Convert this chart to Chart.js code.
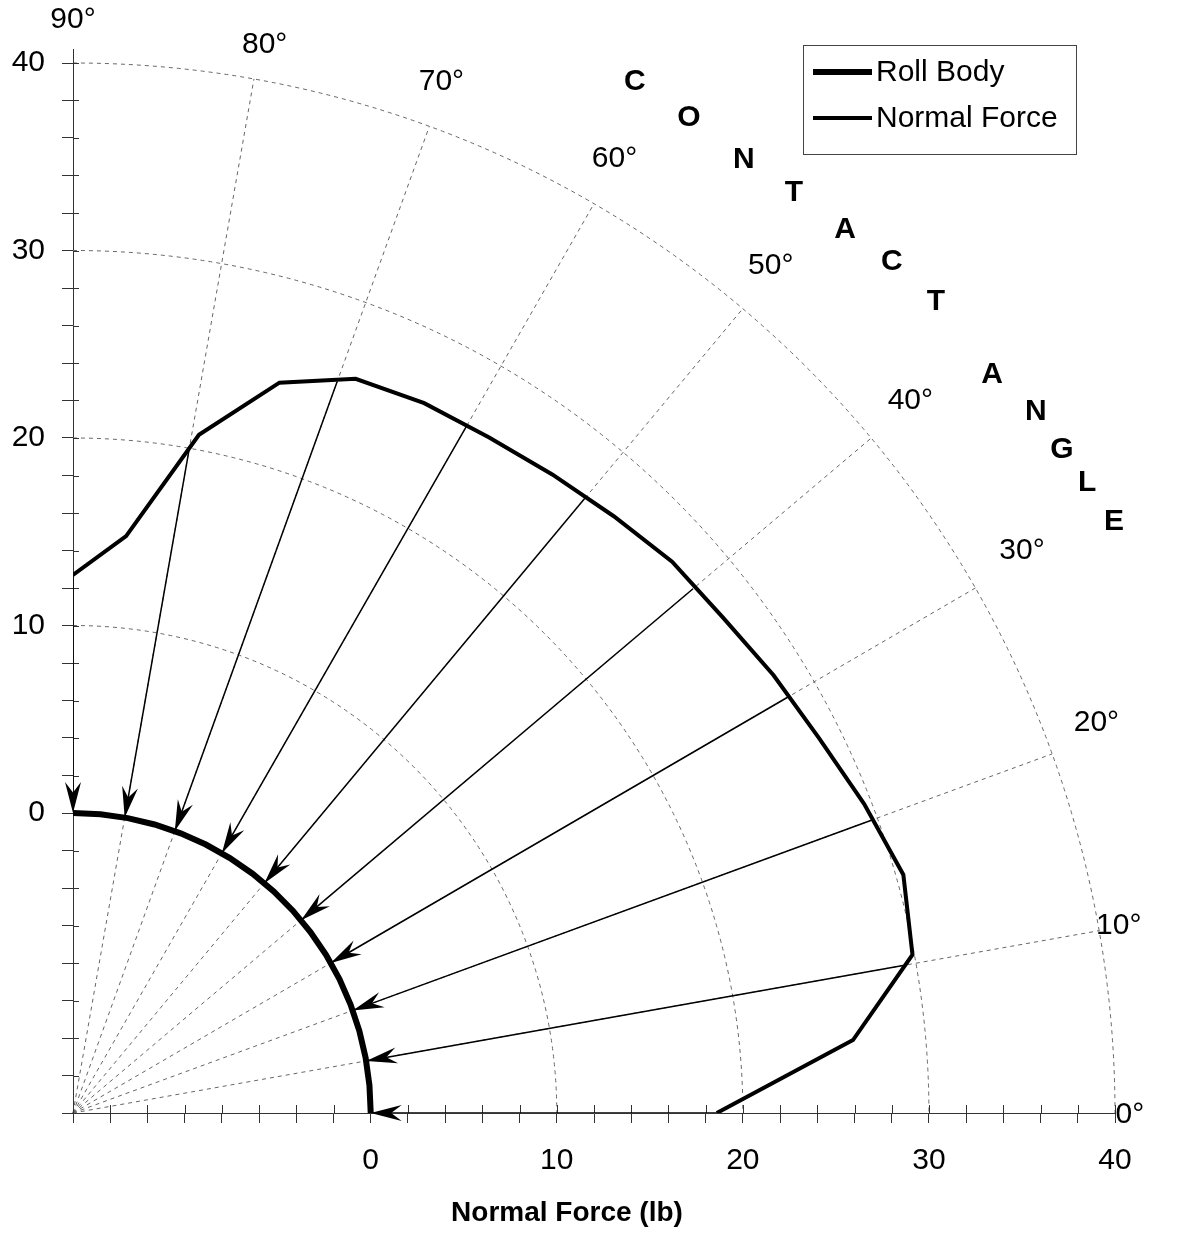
<!DOCTYPE html>
<html><head><meta charset="utf-8">
<script src="https://cdn.jsdelivr.net/npm/chart.js@4.4.1/dist/chart.umd.min.js"></script>
<style>html,body{margin:0;padding:0;background:#fff;} #wrap{width:1189px;height:1238px;position:relative;}</style>
</head><body><div id="wrap"><canvas id="c" width="1189" height="1238"></canvas></div>
<script>
// ---------------- data ----------------
const rollRadius = 16;                       // roll radius in axis units (lb scale)
const contactAngles = [0, 5.3, 10.6, 15.9, 21.2, 26.5, 31.8, 37.1, 42.4, 47.6, 52.9, 58.2, 63.5, 68.8, 74.1, 79.4, 84.7, 90];
const normalForce   = [18.6, 26.1, 29.9, 30.4, 29.6, 28.8, 28.3, 27.8, 27.6, 27.1, 26.7, 26.4, 26.3, 26.0, 24.5, 20.8, 14.9, 12.7];
const arrowAngles   = [0, 10, 20, 30, 40, 50, 60, 70, 80, 90];
const arrowForce    = [18.6, 29.3, 29.7, 28.4, 27.5, 26.9, 26.3, 25.5, 20.0, 12.7];
const gridAngles    = [0, 10, 20, 30, 40, 50, 60, 70, 80, 90];
const gridForces    = [10, 20, 30, 40];
const axisTickLabels = [0, 10, 20, 30, 40];
const angleLabels   = ['0°','10°','20°','30°','40°','50°','60°','70°','80°','90°'];
const arcLetters    = ['C','O','N','T','A','C','T','A','N','G','L','E'];
const seriesNames   = ['Roll Body', 'Normal Force'];
const xTitle        = 'Normal Force (lb)';

// ---------------- layout (text anchors in axis units) ----------------
const angleLabelPos = [[40.8,-16.1],[40.2,-6.0],[39.0,4.8],[35.0,14.0],[29.0,22.0],[21.5,29.2],[13.1,34.9],[3.8,39.0],[-5.7,41.0],[-16.0,42.3]];
const letterPos = [[14.19,38.99],[17.1,37.07],[20.05,34.83],[22.74,33.07],[25.5,31.09],[28.01,29.39],[30.38,27.25],[33.39,23.36],[35.75,21.39],[37.15,19.36],[38.5,17.6],[39.95,15.52]];
const FONT = '"Liberation Sans", Arial, sans-serif';

function toXY(angleDeg, force) {
  const r = rollRadius + force, t = angleDeg * Math.PI / 180;
  return { x: r * Math.cos(t) - rollRadius, y: r * Math.sin(t) - rollRadius };
}

const rollData = contactAngles.map(a => toXY(a, 0));
const forceData = contactAngles.map((a, i) => toXY(a, normalForce[i]));
const arrowSets = arrowAngles.map((a, i) => ({
  label: 'arrow' + a,
  data: [toXY(a, arrowForce[i]), toXY(a, 0)],
  borderColor: '#000', borderWidth: 1.5, pointRadius: 0, showLine: true, isArrow: true
}));

const polarGrid = {
  id: 'polarGrid',
  beforeDatasetsDraw(chart) {
    const { ctx, scales: { x: xs, y: ys } } = chart;
    const ox = xs.getPixelForValue(-rollRadius), oy = ys.getPixelForValue(-rollRadius);
    const rad = f => [xs.getPixelForValue(f) - ox, oy - ys.getPixelForValue(f)];
    ctx.save();
    ctx.strokeStyle = '#666'; ctx.lineWidth = 1; ctx.setLineDash([4, 4]);
    gridForces.forEach(f => {
      const [rx, ry] = rad(f);
      ctx.beginPath(); ctx.ellipse(ox, oy, rx, ry, 0, -Math.PI / 2, 0); ctx.stroke();
    });
    const [RX, RY] = rad(gridForces[gridForces.length - 1]);
    gridAngles.forEach(a => {
      if (a === 0 || a === 90) return;
      const t = a * Math.PI / 180;
      ctx.beginPath(); ctx.moveTo(ox, oy); ctx.lineTo(ox + RX * Math.cos(t), oy - RY * Math.sin(t)); ctx.stroke();
    });
    ctx.setLineDash([]);
    // inner halves of the crossing tick marks
    ctx.strokeStyle = '#333';
    const ca = chart.chartArea;
    for (let v = -16; v <= 40; v += 2) {
      const py = Math.round(ys.getPixelForValue(v)) + 0.5;
      ctx.beginPath(); ctx.moveTo(ca.left, py); ctx.lineTo(ca.left + 6, py); ctx.stroke();
      const px = Math.round(xs.getPixelForValue(v)) + 0.5;
      ctx.beginPath(); ctx.moveTo(px, ca.bottom); ctx.lineTo(px, ca.bottom - 8); ctx.stroke();
    }
    ctx.beginPath(); ctx.moveTo(ca.left + 0.5, ca.top); ctx.lineTo(ca.left + 0.5, ca.top - 14); ctx.stroke();
    ctx.restore();
  },
  afterDatasetsDraw(chart) {
    const { ctx } = chart;
    ctx.save(); ctx.fillStyle = '#000';
    chart.data.datasets.forEach((ds, i) => {
      if (!ds.isArrow) return;
      const pts = chart.getDatasetMeta(i).data;
      const p0 = pts[0], p1 = pts[1];
      const dx = p1.x - p0.x, dy = p1.y - p0.y, L = Math.hypot(dx, dy);
      const ux = dx / L, uy = dy / L, nx = -uy, ny = ux;
      const len = 31, w = 8;
      ctx.beginPath();
      ctx.moveTo(p1.x, p1.y);
      ctx.lineTo(p1.x - ux * len + nx * w, p1.y - uy * len + ny * w);
      ctx.lineTo(p1.x - ux * len * 0.66, p1.y - uy * len * 0.66);
      ctx.lineTo(p1.x - ux * len - nx * w, p1.y - uy * len - ny * w);
      ctx.closePath(); ctx.fill();
    });
    ctx.restore();
  },
  afterDraw(chart) {
    const { ctx, scales: { x: xs, y: ys }, chartArea: ca } = chart;
    ctx.save();
    ctx.fillStyle = '#000'; ctx.textAlign = 'center'; ctx.textBaseline = 'middle';
    ctx.font = '30px ' + FONT;
    angleLabels.forEach((t, i) => ctx.fillText(t, xs.getPixelForValue(angleLabelPos[i][0]), ys.getPixelForValue(angleLabelPos[i][1])));
    ctx.font = 'bold 30px ' + FONT;
    arcLetters.forEach((t, i) => ctx.fillText(t, xs.getPixelForValue(letterPos[i][0]), ys.getPixelForValue(letterPos[i][1])));
    ctx.font = 'bold 28px ' + FONT;
    ctx.fillText(xTitle, (ca.left + ca.right) / 2 - 27, 1213);
    // legend
    const lx = 803, ly = 45, lw = 273, lh = 109;
    ctx.fillStyle = '#fff'; ctx.fillRect(lx, ly, lw, lh);
    ctx.strokeStyle = '#444'; ctx.lineWidth = 1; ctx.strokeRect(lx + 0.5, ly + 0.5, lw, lh);
    const ds = chart.data.datasets;
    [[0, 72], [1, 118]].forEach(([k, yy]) => {
      ctx.strokeStyle = ds[k].borderColor; ctx.lineWidth = ds[k].borderWidth;
      ctx.beginPath(); ctx.moveTo(813, yy); ctx.lineTo(872, yy); ctx.stroke();
      ctx.fillStyle = '#000'; ctx.font = '30px ' + FONT; ctx.textAlign = 'left';
      ctx.fillText(seriesNames[k], 876, yy + 1);
    });
    ctx.restore();
  }
};

const tickCb = v => axisTickLabels.includes(v) ? String(v) : '';
new Chart(document.getElementById('c'), {
  type: 'scatter',
  data: {
    datasets: [
      { label: seriesNames[0], data: rollData, showLine: true, borderColor: '#000', borderWidth: 6, pointRadius: 0 },
      { label: seriesNames[1], data: forceData, showLine: true, borderColor: '#000', borderWidth: 4, pointRadius: 0 },
      ...arrowSets
    ]
  },
  options: {
    responsive: false, animation: false, events: [],
    layout: { padding: { top: 63, right: 74, left: 0, bottom: 0 } },
    plugins: { legend: { display: false }, tooltip: { enabled: false } },
    scales: {
      x: {
        type: 'linear', min: -16, max: 40,
        afterFit: s => { s.height = 125; },
        grid: { drawOnChartArea: false, drawTicks: true, tickLength: 10, color: '#333' },
        border: { display: true, color: '#333', width: 1 },
        ticks: { stepSize: 2, autoSkip: false, maxRotation: 0, callback: tickCb, color: '#000', font: { family: FONT, size: 30 }, padding: 20 }
      },
      y: {
        type: 'linear', min: -16, max: 40,
        afterFit: s => { s.width = 73; },
        grid: { drawOnChartArea: false, drawTicks: true, tickLength: 11, color: '#333' },
        border: { display: true, color: '#333', width: 1 },
        ticks: { stepSize: 2, autoSkip: false, callback: tickCb, color: '#000', font: { family: FONT, size: 30 }, padding: 17 }
      }
    }
  },
  plugins: [polarGrid]
});
</script></body></html>
